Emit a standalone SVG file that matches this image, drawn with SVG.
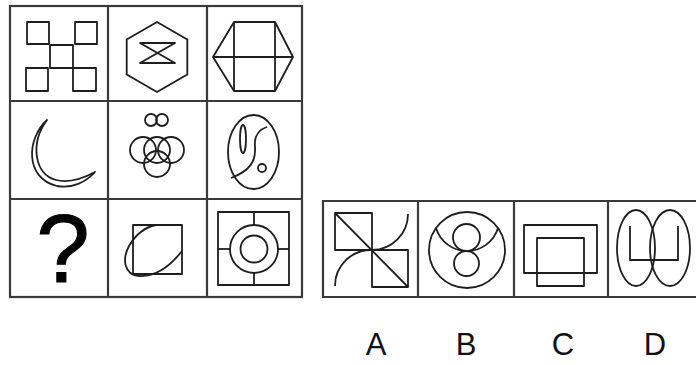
<svg xmlns="http://www.w3.org/2000/svg" width="696" height="365" viewBox="0 0 696 365">
<style>
.grid{fill:none;stroke:#3a3a3a;stroke-width:2.2}
.f{fill:none;stroke:#1e1e1e;stroke-width:1.8;stroke-linejoin:round}
.lbl{font-family:"Liberation Sans",Arial,sans-serif;font-size:31px;fill:#111;text-anchor:middle}
</style>
<rect width="696" height="365" fill="#fff"/>
<g id="grid">
<rect class="grid" x="10" y="6" width="292" height="291"/>
<line class="grid" x1="108" y1="6" x2="108" y2="297"/>
<line class="grid" x1="207" y1="6" x2="207" y2="297"/>
<line class="grid" x1="10" y1="101" x2="302" y2="101"/>
<line class="grid" x1="10" y1="199" x2="302" y2="199"/>
</g>
<g id="options-frame">
<path class="grid" d="M700 201 H323 V297 H700"/>
<line class="grid" x1="418" y1="201" x2="418" y2="297"/>
<line class="grid" x1="514" y1="201" x2="514" y2="297"/>
<line class="grid" x1="608" y1="201" x2="608" y2="297"/>
</g>
<g id="cell1">
<rect class="f" x="27" y="22" width="22" height="22"/>
<rect class="f" x="75" y="22" width="22" height="22"/>
<rect class="f" x="50" y="45" width="23" height="23"/>
<rect class="f" x="26" y="68" width="22" height="23"/>
<rect class="f" x="73" y="68" width="23" height="23"/>
</g>
<g id="cell2">
<polygon class="f" points="157,22 187.3,39.5 187.3,74.5 157,92 126.7,74.5 126.7,39.5"/>
<polygon class="f" points="140,43 175,43 140,63 175,63"/>
</g>
<g id="cell3">
<polygon class="f" points="234,22 275,22 293,57 275,91 234,91 213,57"/>
<line class="f" x1="234" y1="22" x2="234" y2="91"/>
<line class="f" x1="275" y1="22" x2="275" y2="91"/>
<line class="f" x1="213" y1="57" x2="293" y2="57"/>
</g>
<g id="cell4">
<path class="f" d="M47 120 C27 138 24 178 57 186 C72 189 86 182 95 172 C82 179 68 183 56 180 C34 174 30 143 47 120 Z"/>
</g>
<g id="cell5">
<circle class="f" cx="151" cy="120" r="6"/>
<circle class="f" cx="162" cy="120" r="6"/>
<circle class="f" cx="143" cy="150" r="13"/>
<circle class="f" cx="171" cy="150" r="13"/>
<circle class="f" cx="157" cy="150" r="13"/>
<circle class="f" cx="157" cy="164" r="13"/>
</g>
<g id="cell6">
<ellipse class="f" cx="253.5" cy="152" rx="25.5" ry="37"/>
<ellipse class="f" cx="243" cy="139" rx="3" ry="14"/>
<path class="f" d="M267 127 C258 130 254 137 255 147 C256 161 250 171 231 178"/>
<circle class="f" cx="262" cy="168" r="4"/>
</g>
<g id="cell7">
<text x="63" y="282" font-family="Liberation Sans, Arial, sans-serif" font-size="96" text-anchor="middle" fill="#000" stroke="#000" stroke-width="1">?</text>
</g>
<g id="cell8">
<rect class="f" x="133" y="225" width="49" height="49"/>
<path class="f" d="M182 251 C171 265 156 277 139 276 C124 275 122 259 129 246 C136 234 146 227 156 225"/>
</g>
<g id="cell9">
<rect class="f" x="218" y="212" width="71" height="73"/>
<circle class="f" cx="254" cy="249" r="24"/>
<circle class="f" cx="254" cy="249" r="13.5"/>
<line class="f" x1="254" y1="212" x2="254" y2="225"/>
<line class="f" x1="254" y1="273" x2="254" y2="285"/>
<line class="f" x1="218" y1="249" x2="230" y2="249"/>
<line class="f" x1="278" y1="249" x2="289" y2="249"/>
</g>
<g id="optA">
<rect class="f" x="335" y="213" width="37" height="37"/>
<rect class="f" x="372" y="250" width="36" height="37"/>
<line class="f" x1="335" y1="213" x2="408" y2="287"/>
<path class="f" d="M408 214 A36 36 0 0 1 372 250 A36 36 0 0 0 335 286"/>
</g>
<g id="optB">
<circle class="f" cx="467" cy="250" r="38"/>
<circle class="f" cx="466.5" cy="237.5" r="13.5"/>
<circle class="f" cx="466.5" cy="263.5" r="12.5"/>
<path class="f" d="M436 228 A32.4 32.4 0 0 0 498 228"/>
</g>
<g id="optC">
<rect class="f" x="524" y="225" width="73" height="48"/>
<rect class="f" x="537" y="238" width="47" height="48"/>
</g>
<g id="optD">
<ellipse class="f" cx="636" cy="248" rx="19" ry="38"/>
<ellipse class="f" cx="670" cy="248" rx="20" ry="38"/>
<polyline class="f" points="630,226 630,260 678,260 678,226"/>
</g>
<g id="labels">
<text class="lbl" x="376" y="355">A</text>
<text class="lbl" x="466" y="355">B</text>
<text class="lbl" x="563" y="355">C</text>
<text class="lbl" x="655" y="355">D</text>
</g>
</svg>
